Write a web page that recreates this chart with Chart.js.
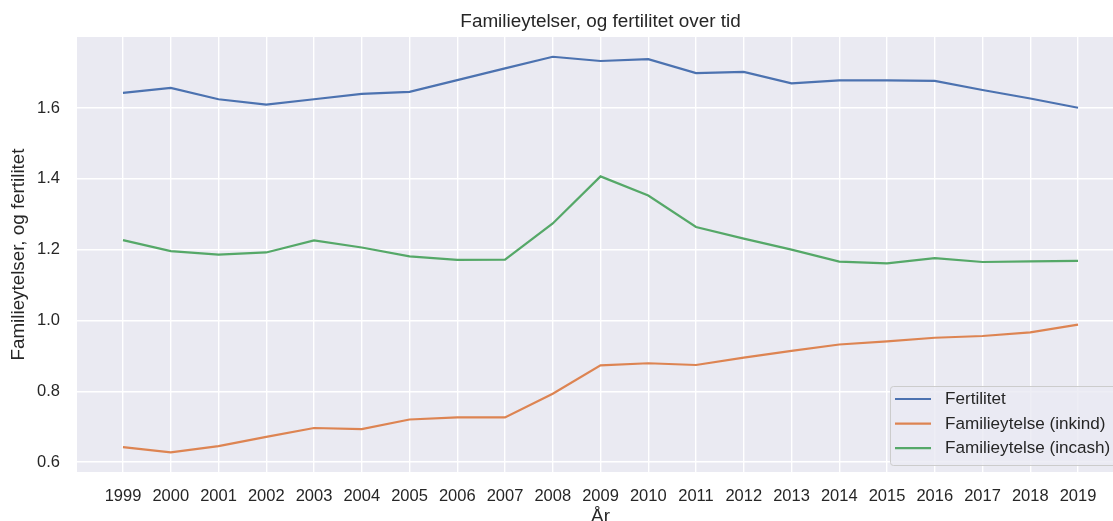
<!DOCTYPE html>
<html>
<head>
<meta charset="utf-8">
<script src="https://cdn.jsdelivr.net/npm/chart.js@4"></script>
<style>
  html, body { margin: 0; padding: 0; background: #fff; overflow: hidden; }
  canvas { display: block; }
</style>
</head>
<body>
<canvas id="lineChart" width="1124" height="530"></canvas>
<script>
// Data
const years = [1999, 2000, 2001, 2002, 2003, 2004, 2005, 2006, 2007, 2008, 2009,
               2010, 2011, 2012, 2013, 2014, 2015, 2016, 2017, 2018, 2019];
const fertilitet = [1.643, 1.657, 1.625, 1.610, 1.625, 1.640, 1.646, 1.679, 1.712, 1.745, 1.733,
                    1.738, 1.699, 1.702, 1.670, 1.678, 1.678, 1.677, 1.651, 1.627, 1.601];
const inkind = [0.642, 0.627, 0.645, 0.671, 0.696, 0.693, 0.720, 0.726, 0.726, 0.793, 0.873,
                0.879, 0.874, 0.895, 0.914, 0.932, 0.941, 0.951, 0.956, 0.966, 0.988];
const incash = [1.227, 1.196, 1.186, 1.192, 1.226, 1.206, 1.181, 1.171, 1.172, 1.274, 1.407,
                1.353, 1.264, 1.231, 1.200, 1.166, 1.161, 1.176, 1.165, 1.167, 1.168];
const yTicks = [0.6, 0.8, 1.0, 1.2, 1.4, 1.6];
const seriesLabels = ['Fertilitet', 'Familieytelse (inkind)', 'Familieytelse (incash)'];
const seriesColors = ['#4C72B0', '#DD8452', '#55A868'];
const chartTitle = 'Familieytelser, og fertilitet over tid';
const xTitle = 'År';
const yTitle = 'Familieytelser, og fertilitet';

const FONT = "'Liberation Sans', Arial, sans-serif";
const TEXT = '#262626';

function toPoints(values) {
  return years.map((yr, i) => ({ x: yr, y: values[i] }));
}

// gray panel behind the plot
const panelBackground = {
  id: 'panelBackground',
  beforeDraw(chart) {
    const { ctx, chartArea: a } = chart;
    ctx.save();
    ctx.fillStyle = '#EAEAF2';
    ctx.fillRect(a.left, a.top, a.right - a.left, a.bottom - a.top);
    ctx.restore();
  }
};

// title centred over the plot area
const plotTitle = {
  id: 'plotTitle',
  afterDraw(chart) {
    const { ctx, chartArea: a } = chart;
    ctx.save();
    ctx.font = '18.9px ' + FONT;
    ctx.fillStyle = TEXT;
    ctx.textAlign = 'center';
    ctx.textBaseline = 'middle';
    ctx.fillText(chartTitle, (a.left + a.right) / 2, 21.5);
    ctx.restore();
  }
};

// matplotlib style legend box, lower right
const boxLegend = {
  id: 'boxLegend',
  afterDraw(chart) {
    const { ctx } = chart;
    const x = 890, y = 386, w = 232, h = 79;
    ctx.save();
    ctx.beginPath();
    ctx.roundRect(x + 0.5, y + 0.5, w, h, 3);
    ctx.fillStyle = 'rgba(234,234,242,0.8)';
    ctx.fill();
    ctx.strokeStyle = '#cccccc';
    ctx.lineWidth = 1;
    ctx.stroke();
    ctx.font = '17.1px ' + FONT;
    ctx.textBaseline = 'middle';
    chart.data.datasets.forEach((ds, i) => {
      const rowY = 399 + i * 24.6;
      ctx.strokeStyle = ds.borderColor;
      ctx.lineWidth = 2.2;
      ctx.beginPath();
      ctx.moveTo(895, rowY);
      ctx.lineTo(931, rowY);
      ctx.stroke();
      ctx.fillStyle = TEXT;
      ctx.fillText(ds.label, 945, rowY + 0.5);
    });
    ctx.restore();
  }
};

const ctx = document.getElementById('lineChart').getContext('2d');
const lineChart = new Chart(ctx, {
  type: 'line',
  data: {
    datasets: [fertilitet, inkind, incash].map((vals, i) => ({
      label: seriesLabels[i],
      data: toPoints(vals),
      borderColor: seriesColors[i],
      backgroundColor: seriesColors[i],
      borderWidth: 2.2,
      pointRadius: 0,
      tension: 0,
      fill: false
    }))
  },
  options: {
    responsive: false,
    animation: false,
    devicePixelRatio: 1,
    layout: { padding: { top: 37, left: 0, right: 0, bottom: 0 }, autoPadding: false },
    plugins: {
      legend: { display: false },
      title: { display: false },
      tooltip: { enabled: false }
    },
    scales: {
      x: {
        type: 'linear',
        min: 1998.037,
        max: 2019.963,
        afterBuildTicks: scale => { scale.ticks = years.map(v => ({ value: v })); },
        afterFit: scale => { scale.height = 58; },
        grid: { color: '#ffffff', lineWidth: 1.4, drawTicks: false },
        border: { display: false },
        ticks: {
          color: TEXT,
          font: { family: FONT, size: 16.5 },
          padding: 15,
          maxRotation: 0,
          autoSkip: false,
          callback: v => String(v)
        },
        title: {
          display: true,
          text: xTitle,
          color: TEXT,
          font: { family: FONT, size: 18.8 },
          padding: { top: 0, bottom: 2 }
        }
      },
      y: {
        type: 'linear',
        min: 0.5717,
        max: 1.8008,
        afterBuildTicks: scale => { scale.ticks = yTicks.map(v => ({ value: v })); },
        afterFit: scale => { scale.width = 77; },
        grid: { color: '#ffffff', lineWidth: 1.4, drawTicks: false },
        border: { display: false },
        ticks: {
          color: TEXT,
          font: { family: FONT, size: 16.5 },
          padding: 17,
          callback: v => v.toFixed(1)
        },
        title: {
          display: true,
          text: yTitle,
          color: TEXT,
          font: { family: FONT, size: 18.8 },
          padding: { top: 8, bottom: 0 }
        }
      }
    }
  },
  plugins: [panelBackground, plotTitle, boxLegend]
});
</script>
</body>
</html>
